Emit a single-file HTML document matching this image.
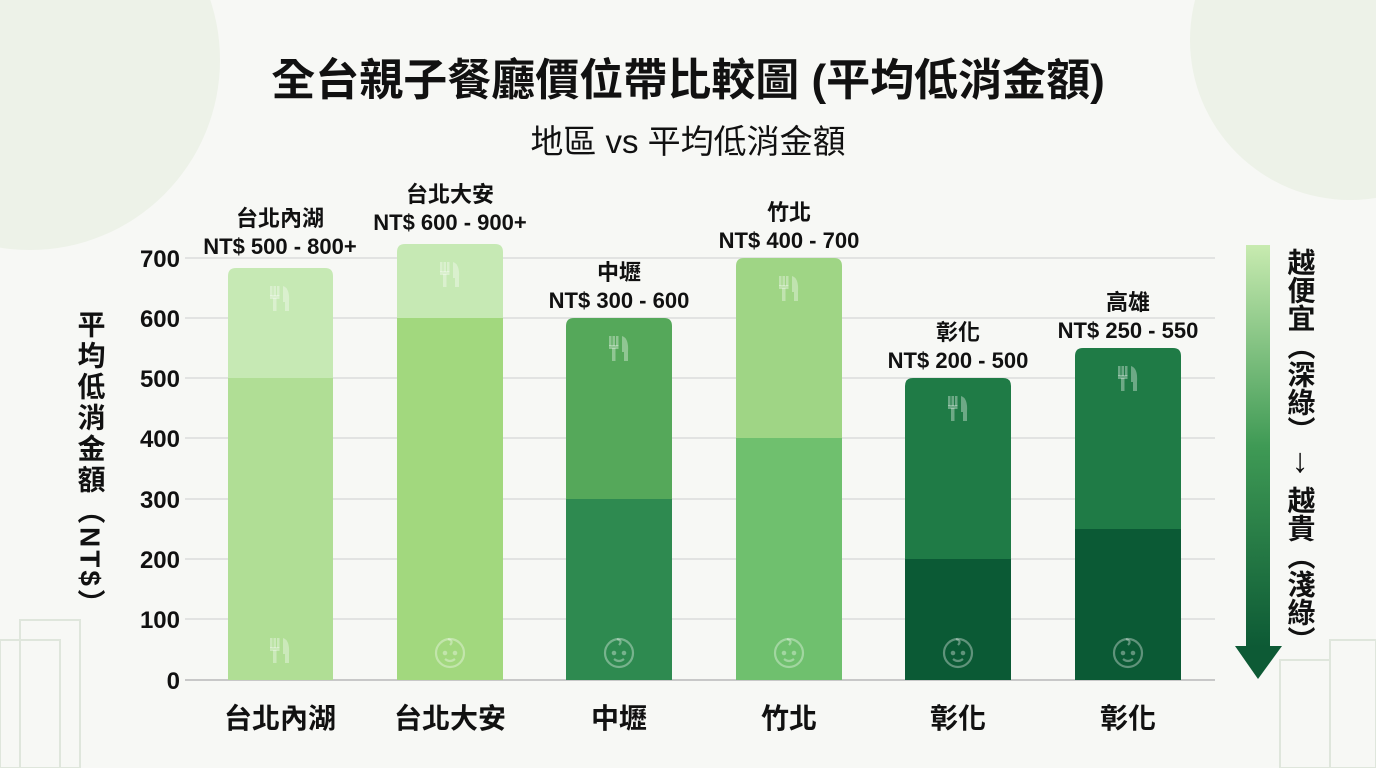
<!DOCTYPE html>
<html><head><meta charset="utf-8"><style>
body{margin:0;background:#f7f8f5;}
svg{display:block;font-family:"Liberation Sans","Noto Sans CJK TC",sans-serif;}
</style></head><body>
<svg width="1376" height="768" viewBox="0 0 1376 768">
<defs>
<linearGradient id="ag" x1="0" y1="0" x2="0" y2="1">
<stop offset="0" stop-color="#c8ebb0"/><stop offset="0.5" stop-color="#3f9a55"/><stop offset="1" stop-color="#0d5a35"/>
</linearGradient>
<g id="fork" fill="#ffffff" fill-opacity="0.35">
<rect x="-10" y="-12" width="2.5" height="10"/><rect x="-6.5" y="-12" width="2.5" height="10"/><rect x="-3" y="-12" width="2.5" height="10"/>
<rect x="-10" y="-3" width="9.5" height="4"/><rect x="-7" y="0" width="3.5" height="13"/>
<path d="M3,-12 Q10,-10 9,4 L9,13 L5,13 L5,4 L3,4 Z"/>
</g>
<g id="baby" fill="none" stroke="#ffffff" stroke-opacity="0.35" stroke-width="2.2">
<circle cx="0" cy="0" r="14"/><circle cx="-5" cy="0" r="1.2"/><circle cx="5" cy="0" r="1.2"/>
<path d="M-5,6 Q0,10 5,6"/><path d="M-2,-14 Q4,-12 0,-8"/>
</g>
</defs>
<rect width="1376" height="768" fill="#f7f8f5"/>
<circle cx="30" cy="60" r="190" fill="#e6efe0" opacity="0.6"/>
<circle cx="1350" cy="40" r="160" fill="#e6efe0" opacity="0.6"/>
<text x="688" y="95" text-anchor="middle" font-size="44" font-weight="bold" fill="#111">全台親子餐廳價位帶比較圖 (平均低消金額)</text>
<text x="688" y="153" text-anchor="middle" font-size="33" fill="#111">地區 vs 平均低消金額</text>
<g stroke="#dcdcdc" stroke-width="1.5">
<line x1="185" y1="258" x2="1215" y2="258"/><line x1="185" y1="318" x2="1215" y2="318"/>
<line x1="185" y1="378" x2="1215" y2="378"/><line x1="185" y1="438" x2="1215" y2="438"/>
<line x1="185" y1="499" x2="1215" y2="499"/><line x1="185" y1="559" x2="1215" y2="559"/>
<line x1="185" y1="619" x2="1215" y2="619"/></g>
<line x1="185" y1="680" x2="1215" y2="680" stroke="#c8c8c8" stroke-width="2"/>
<g font-size="24" font-weight="bold" fill="#111" text-anchor="end">
<text x="180" y="267">700</text><text x="180" y="327">600</text><text x="180" y="387">500</text>
<text x="180" y="447">400</text><text x="180" y="508">300</text><text x="180" y="568">200</text>
<text x="180" y="628">100</text><text x="180" y="689">0</text></g>
<text x="90" y="310" font-size="28" font-weight="bold" fill="#111" letter-spacing="3" style="writing-mode:tb">平均低消金額（NT$）</text>
<g>
<path d="M228,680 V276 Q228,268 236,268 H325 Q333,268 333,276 V680Z" fill="#c6e9b4"/>
<rect x="228" y="378" width="105" height="302" fill="#b0de95"/>
<path d="M397,680 V252 Q397,244 405,244 H495 Q503,244 503,252 V680Z" fill="#c6e9b4"/>
<rect x="397" y="318" width="106" height="362" fill="#a2d87e"/>
<path d="M566,680 V326 Q566,318 574,318 H664 Q672,318 672,326 V680Z" fill="#55a85a"/>
<rect x="566" y="499" width="106" height="181" fill="#2e8a50"/>
<path d="M736,680 V266 Q736,258 744,258 H834 Q842,258 842,266 V680Z" fill="#9fd585"/>
<rect x="736" y="438" width="106" height="242" fill="#6fc06e"/>
<path d="M905,680 V386 Q905,378 913,378 H1003 Q1011,378 1011,386 V680Z" fill="#1f7b46"/>
<rect x="905" y="559" width="106" height="121" fill="#0b5a35"/>
<path d="M1075,680 V356 Q1075,348 1083,348 H1173 Q1181,348 1181,356 V680Z" fill="#1f7b46"/>
<rect x="1075" y="529" width="106" height="151" fill="#0b5a35"/>
</g>
<use href="#fork" x="280" y="298"/><use href="#fork" x="450" y="274"/><use href="#fork" x="619" y="348"/>
<use href="#fork" x="789" y="288"/><use href="#fork" x="958" y="408"/><use href="#fork" x="1128" y="378"/>
<use href="#fork" x="280" y="650"/><use href="#baby" x="450" y="653"/><use href="#baby" x="619" y="653"/>
<use href="#baby" x="789" y="653"/><use href="#baby" x="958" y="653"/><use href="#baby" x="1128" y="653"/>
<g font-size="22" font-weight="bold" fill="#111" text-anchor="middle">
<text x="280" y="226">台北內湖</text><text x="280" y="254">NT$ 500 - 800+</text>
<text x="450" y="202">台北大安</text><text x="450" y="230">NT$ 600 - 900+</text>
<text x="619" y="280">中壢</text><text x="619" y="308">NT$ 300 - 600</text>
<text x="789" y="220">竹北</text><text x="789" y="248">NT$ 400 - 700</text>
<text x="958" y="340">彰化</text><text x="958" y="368">NT$ 200 - 500</text>
<text x="1128" y="310">高雄</text><text x="1128" y="338">NT$ 250 - 550</text>
</g>
<g font-size="28" font-weight="bold" fill="#111" text-anchor="middle">
<text x="280" y="728">台北內湖</text><text x="450" y="728">台北大安</text><text x="619" y="728">中壢</text>
<text x="789" y="728">竹北</text><text x="958" y="728">彰化</text><text x="1128" y="728">彰化</text></g>
<rect x="1246" y="245" width="24" height="402" fill="url(#ag)"/>
<polygon points="1235,646 1282,646 1258,679" fill="#0d5a35"/>
<g font-size="28" font-weight="bold" fill="#111">
<text x="1300" y="248" style="writing-mode:tb">越便宜（深綠）</text>
<text x="1300" y="472" text-anchor="middle" font-size="34">↓</text>
<text x="1300" y="486" style="writing-mode:tb">越貴（淺綠）</text>
</g>
<g fill="none" stroke="#dfe6dc" stroke-width="2">
<rect x="0" y="640" width="60" height="128"/><rect x="20" y="620" width="60" height="148"/>
<rect x="1280" y="660" width="50" height="108"/><rect x="1330" y="640" width="46" height="128"/></g>
</svg>
</body></html>
